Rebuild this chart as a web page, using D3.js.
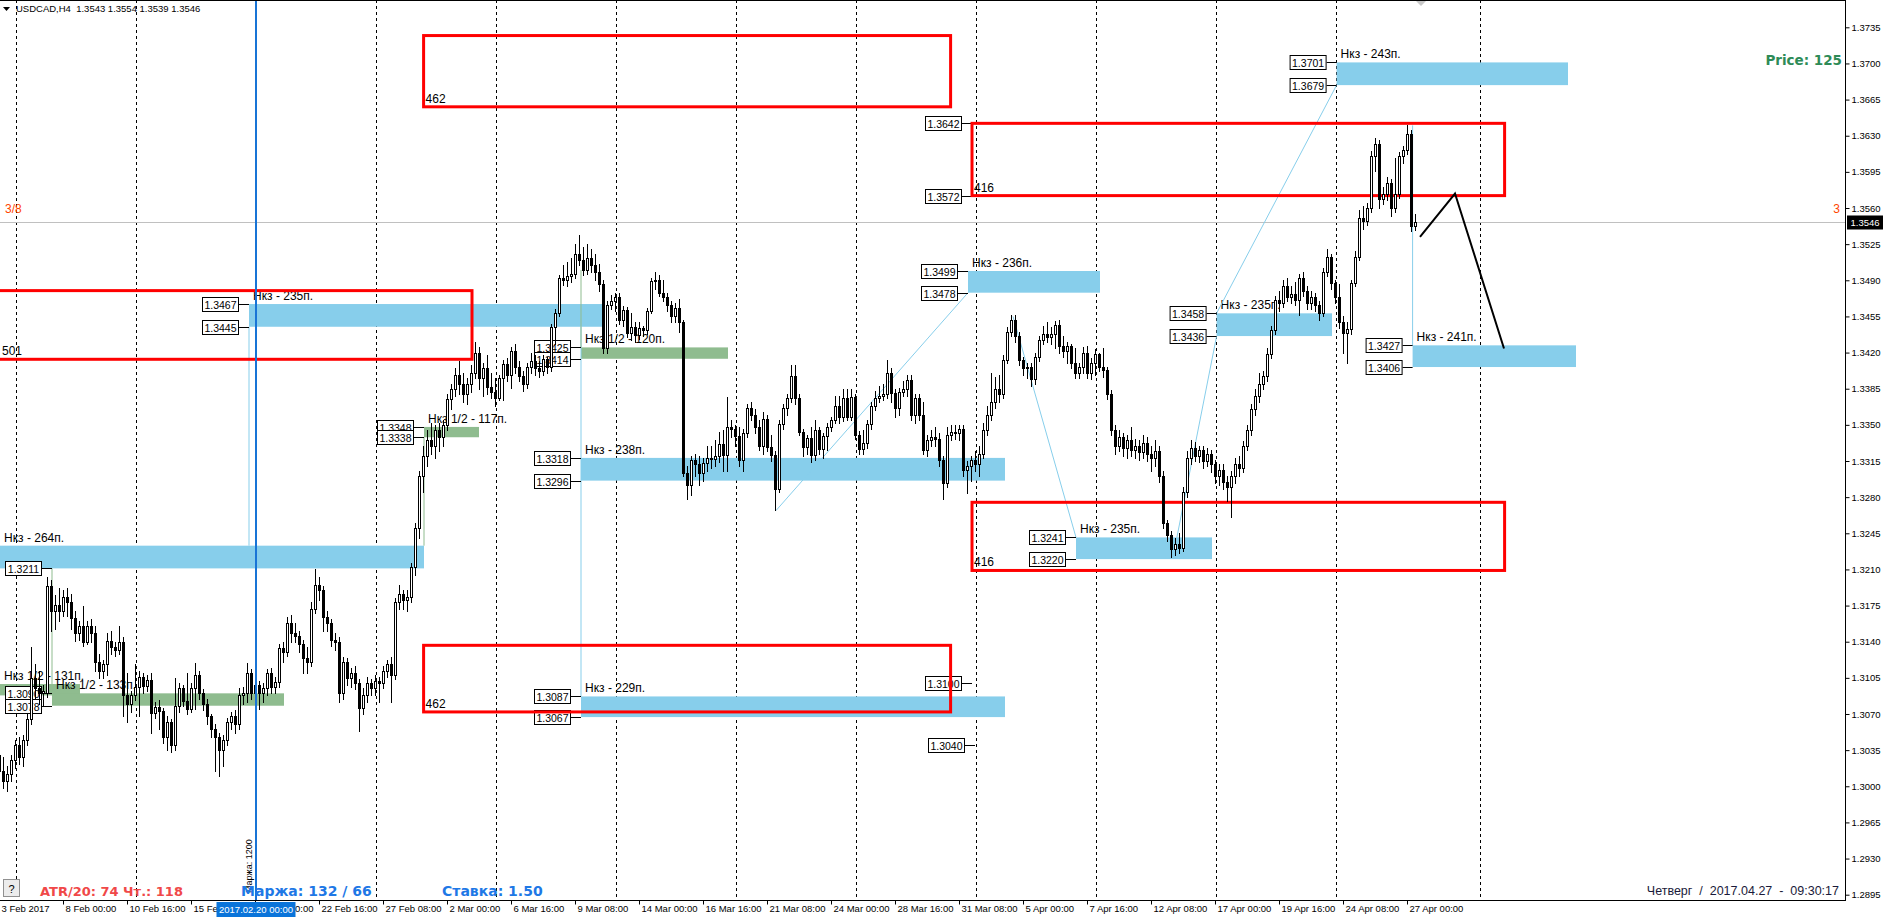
<!DOCTYPE html>
<html><head><meta charset="utf-8">
<script src="https://cdn.jsdelivr.net/npm/d3@7"></script>
<style>
body{margin:0;background:#fff;overflow:hidden}
svg{display:block}
text{font-family:"Liberation Sans",Arial,sans-serif}
.bold{font-family:"DejaVu Sans",Verdana,sans-serif;font-weight:bold}
</style></head>
<body><svg id="c" width="1887" height="921"></svg>
<script>
// ---------- DATA (prices as 1.xxxx -> stored as xxxx) ----------
const candles = [
[3030,3042,3010,3015],[3015,3028,2998,3005],[3005,3020,2995,3012],[3012,3030,3005,3025],[3025,3045,3018,3040],
[3040,3048,3022,3028],[3028,3050,3020,3045],[3045,3070,3040,3065],[3065,3135,3060,3105],[3105,3118,3085,3095],
[3095,3112,3080,3090],[3090,3098,3078,3092],[3090,3203,3086,3194],[3194,3200,3150,3170],[3170,3185,3152,3176],
[3176,3192,3160,3170],[3170,3190,3165,3183],[3183,3192,3165,3178],[3178,3186,3152,3163],[3163,3170,3141,3148],
[3148,3160,3142,3155],[3155,3175,3136,3140],[3140,3160,3138,3155],[3155,3162,3140,3148],[3148,3155,3112,3120],
[3120,3128,3105,3112],[3112,3122,3105,3118],[3118,3148,3108,3141],[3141,3150,3128,3135],[3135,3140,3126,3132],
[3132,3155,3128,3140],[3140,3145,3068,3088],[3088,3110,3062,3080],[3080,3092,3072,3088],[3088,3118,3084,3096],
[3096,3112,3068,3106],[3106,3110,3090,3097],[3097,3108,3092,3103],[3103,3110,3052,3071],[3071,3082,3066,3077],
[3077,3084,3055,3073],[3073,3076,3042,3048],[3048,3068,3035,3062],[3062,3065,3033,3040],[3040,3105,3035,3078],
[3078,3100,3072,3095],[3095,3098,3078,3083],[3083,3110,3070,3075],[3075,3100,3072,3095],[3095,3119,3075,3108],
[3108,3112,3085,3090],[3090,3094,3074,3080],[3080,3085,3060,3068],[3068,3070,3048,3055],[3055,3060,3015,3048],
[3048,3052,3010,3035],[3035,3050,3020,3045],[3045,3066,3040,3062],[3062,3072,3055,3068],[3068,3074,3052,3060],
[3060,3095,3055,3088],[3088,3096,3080,3090],[3090,3119,3082,3110],[3110,3114,3085,3090],[3090,3102,3074,3098],
[3098,3102,3075,3090],[3090,3100,3082,3095],[3095,3114,3088,3110],[3110,3115,3090,3096],[3096,3106,3090,3101],
[3101,3138,3096,3134],[3134,3140,3120,3130],[3130,3164,3126,3158],[3158,3166,3140,3148],[3148,3158,3140,3146],
[3146,3150,3130,3138],[3138,3142,3110,3124],[3124,3135,3110,3120],[3120,3178,3116,3172],[3172,3210,3168,3195],
[3195,3203,3180,3190],[3190,3194,3150,3164],[3164,3170,3150,3158],[3158,3162,3136,3142],[3142,3148,3132,3140],
[3140,3145,3082,3090],[3090,3125,3085,3120],[3120,3124,3098,3105],[3105,3115,3096,3110],[3110,3116,3094,3100],
[3100,3104,3054,3076],[3076,3095,3070,3088],[3088,3106,3082,3100],[3100,3104,3088,3095],[3095,3108,3088,3102],
[3102,3106,3082,3100],[3100,3116,3095,3112],[3112,3122,3106,3118],[3118,3125,3082,3108],[3108,3182,3104,3178],
[3178,3195,3172,3186],[3186,3190,3172,3180],[3180,3190,3170,3183],[3183,3216,3178,3212],[3212,3255,3205,3250],
[3250,3305,3240,3300],[3300,3330,3285,3320],[3320,3345,3310,3335],[3335,3352,3322,3330],[3330,3350,3318,3345],
[3345,3352,3325,3338],[3338,3355,3330,3350],[3350,3380,3345,3375],[3375,3390,3365,3385],[3385,3405,3378,3398],
[3398,3412,3380,3390],[3390,3400,3372,3380],[3380,3395,3370,3390],[3390,3408,3382,3400],[3400,3430,3395,3420],
[3420,3425,3385,3395],[3395,3410,3378,3405],[3405,3418,3380,3387],[3387,3400,3376,3382],[3382,3395,3368,3376],
[3376,3398,3374,3395],[3395,3413,3374,3409],[3409,3415,3392,3398],[3398,3425,3386,3422],[3422,3428,3400,3406],
[3406,3412,3392,3397],[3397,3402,3383,3390],[3390,3410,3386,3406],[3406,3420,3400,3412],[3412,3418,3398,3405],
[3405,3412,3396,3402],[3402,3418,3398,3414],[3414,3416,3400,3406],[3406,3448,3402,3445],[3445,3462,3428,3458],
[3458,3495,3455,3492],[3492,3505,3485,3490],[3490,3508,3484,3494],[3494,3512,3488,3496],[3496,3525,3492,3515],
[3515,3534,3505,3510],[3510,3522,3495,3500],[3500,3525,3496,3512],[3512,3520,3498,3505],[3505,3515,3490,3498],
[3498,3506,3480,3486],[3486,3490,3420,3424],[3424,3470,3420,3466],[3466,3476,3462,3470],[3470,3478,3460,3474],
[3474,3478,3448,3452],[3452,3465,3446,3461],[3461,3464,3435,3439],[3439,3458,3432,3445],[3445,3450,3430,3437],
[3437,3450,3433,3444],[3444,3446,3436,3442],[3442,3463,3438,3460],[3460,3492,3458,3489],[3489,3498,3482,3490],
[3490,3495,3475,3478],[3478,3490,3470,3474],[3474,3478,3460,3466],[3466,3470,3450,3455],[3455,3468,3450,3463],
[3463,3472,3440,3450],[3450,3452,3300,3303],[3303,3310,3278,3292],[3292,3320,3282,3316],[3316,3322,3300,3312],
[3312,3320,3292,3303],[3303,3318,3296,3313],[3313,3330,3305,3318],[3318,3330,3308,3317],[3317,3335,3310,3320],
[3320,3343,3314,3331],[3331,3345,3305,3321],[3321,3377,3305,3348],[3348,3355,3338,3346],[3346,3350,3330,3339],
[3339,3348,3310,3316],[3316,3346,3305,3342],[3342,3370,3338,3366],[3366,3372,3355,3360],[3360,3365,3342,3348],
[3348,3355,3326,3330],[3330,3362,3322,3356],[3356,3360,3325,3329],[3329,3340,3315,3321],[3321,3325,3268,3288],
[3288,3355,3285,3351],[3351,3370,3346,3366],[3366,3380,3360,3376],[3376,3408,3372,3397],[3397,3408,3370,3376],
[3376,3380,3340,3343],[3343,3346,3320,3329],[3329,3340,3322,3337],[3337,3348,3314,3321],[3321,3355,3316,3345],
[3345,3348,3322,3327],[3327,3342,3318,3339],[3339,3352,3326,3348],[3348,3358,3344,3355],[3355,3378,3352,3368],
[3368,3378,3352,3358],[3358,3385,3354,3376],[3376,3385,3355,3358],[3358,3385,3355,3377],[3377,3380,3336,3340],
[3340,3344,3322,3327],[3327,3345,3322,3332],[3332,3355,3328,3351],[3351,3372,3346,3368],[3368,3383,3364,3376],
[3376,3388,3372,3378],[3378,3390,3374,3380],[3380,3413,3376,3400],[3400,3405,3372,3381],[3381,3385,3358,3366],
[3366,3386,3360,3382],[3382,3392,3378,3385],[3385,3398,3378,3393],[3393,3398,3355,3360],[3360,3380,3352,3376],
[3376,3380,3355,3360],[3360,3372,3322,3326],[3326,3340,3320,3335],[3335,3345,3330,3338],[3338,3348,3330,3336],
[3336,3342,3310,3316],[3316,3320,3278,3294],[3294,3348,3290,3340],[3340,3350,3335,3343],[3343,3350,3336,3342],
[3342,3350,3335,3346],[3346,3350,3300,3306],[3306,3315,3284,3310],[3310,3320,3296,3316],[3316,3325,3305,3312],
[3312,3330,3300,3322],[3322,3352,3318,3345],[3345,3368,3340,3360],[3360,3400,3355,3372],[3372,3396,3366,3385],
[3385,3398,3372,3380],[3380,3418,3376,3413],[3413,3445,3410,3440],[3440,3456,3436,3452],[3452,3456,3430,3436],
[3436,3440,3408,3413],[3413,3416,3398,3405],[3405,3410,3395,3406],[3406,3410,3388,3394],[3394,3420,3390,3416],
[3416,3436,3412,3432],[3432,3446,3428,3438],[3438,3450,3430,3435],[3435,3445,3428,3438],[3438,3451,3424,3447],
[3447,3452,3420,3426],[3426,3436,3416,3422],[3422,3430,3410,3426],[3426,3428,3405,3410],[3410,3424,3395,3400],
[3400,3410,3395,3406],[3406,3425,3400,3420],[3420,3426,3395,3400],[3400,3415,3394,3410],[3410,3423,3398,3419],
[3419,3420,3402,3406],[3406,3424,3396,3403],[3403,3406,3375,3380],[3380,3384,3340,3345],[3345,3350,3322,3330],
[3330,3345,3325,3338],[3338,3342,3320,3328],[3328,3340,3318,3335],[3335,3348,3320,3326],[3326,3336,3318,3330],
[3330,3335,3316,3324],[3324,3340,3318,3332],[3332,3338,3315,3322],[3322,3330,3305,3318],[3318,3335,3310,3325],
[3325,3330,3295,3300],[3300,3305,3250,3255],[3255,3258,3238,3243],[3243,3247,3222,3230],[3230,3240,3224,3235],
[3235,3245,3226,3231],[3231,3290,3228,3285],[3285,3325,3280,3318],[3318,3335,3312,3328],[3328,3333,3315,3320],
[3320,3330,3314,3326],[3326,3330,3308,3315],[3315,3328,3310,3322],[3322,3326,3304,3312],[3312,3316,3294,3300],
[3300,3312,3292,3306],[3306,3312,3288,3295],[3295,3300,3276,3290],[3290,3305,3261,3300],[3300,3318,3294,3312],
[3312,3320,3300,3308],[3308,3334,3304,3330],[3330,3350,3326,3345],[3345,3370,3340,3365],[3365,3385,3360,3378],
[3378,3400,3372,3390],[3390,3402,3385,3397],[3397,3424,3392,3419],[3419,3446,3415,3442],[3442,3475,3438,3471],
[3471,3480,3460,3468],[3468,3490,3464,3484],[3484,3492,3470,3474],[3474,3484,3468,3477],[3477,3488,3466,3471],
[3471,3496,3456,3492],[3492,3498,3475,3480],[3480,3484,3462,3468],[3468,3480,3462,3474],[3474,3478,3460,3466],
[3466,3470,3452,3458],[3458,3502,3455,3498],[3498,3520,3494,3513],[3513,3515,3482,3487],[3487,3490,3468,3474],
[3474,3486,3444,3450],[3450,3455,3420,3439],[3439,3450,3410,3443],[3443,3490,3438,3487],[3487,3518,3484,3513],
[3513,3558,3510,3550],[3550,3562,3540,3547],[3547,3565,3544,3560],[3560,3615,3556,3610],[3610,3628,3596,3622],
[3622,3626,3560,3569],[3569,3580,3564,3574],[3574,3590,3568,3584],[3584,3588,3552,3560],[3560,3608,3556,3574],
[3574,3614,3570,3610],[3610,3620,3604,3616],[3616,3640,3612,3632],[3632,3636,3538,3543],[3543,3554,3539,3546]
];
const priceTicks = [2895,2930,2965,3000,3035,3070,3105,3140,3175,3210,3245,3280,3315,3350,3385,3420,3455,3490,3525,3560,3595,3630,3665,3700,3735];
const timeTickBars = [0,16,32,48,64,80,96,112,128,144,160,176,192,208,224,240,256,272,288,304,320,336,352];
const timeTickLabels = ["3 Feb 2017","8 Feb 00:00","10 Feb 16:00","15 Feb 08:00","20 Feb 00:00","22 Feb 16:00","27 Feb 08:00","2 Mar 00:00","6 Mar 16:00","9 Mar 08:00","14 Mar 00:00","16 Mar 16:00","21 Mar 08:00","24 Mar 00:00","28 Mar 16:00","31 Mar 08:00","5 Apr 00:00","7 Apr 16:00","12 Apr 08:00","17 Apr 00:00","19 Apr 16:00","24 Apr 08:00","27 Apr 00:00"];
const weekSeparators = [4,34,64,94,124,154,184,214,244,274,304,334,370];
const markerBar = 64;            // blue vertical line 2017.02.20 00:00
const bidPrice = 3546;
const murreyPrice = 3560;
const blueZones = [
 {b0:62.5,b1:151,top:3467,bot:3445,label:"Нкз - 235п."},
 {b0:-10,b1:106.25,top:3233,bot:3211,label:"Нкз - 264п."},
 {b0:145.5,b1:251.5,top:3318,bot:3296,label:"Нкз - 238п."},
 {b0:145.5,b1:251.5,top:3087,bot:3067,label:"Нкз - 229п."},
 {b0:242.25,b1:275.25,top:3499,bot:3478,label:"Нкз - 236п."},
 {b0:269.25,b1:303.25,top:3241,bot:3220,label:"Нкз - 235п."},
 {b0:304.4,b1:333.25,top:3458,bot:3436,label:"Нкз - 235п."},
 {b0:334.4,b1:392.25,top:3701,bot:3679,label:"Нкз - 243п."},
 {b0:353.4,b1:394.25,top:3427,bot:3406,label:"Нкз - 241п."}
];
const greenZones = [
 {b0:-10,b1:20.25,top:3099,bot:3088,label:"Нкз 1/2 - 131п."},
 {b0:13.25,b1:71.25,top:3090,bot:3078,label:"Нкз 1/2 - 133п."},
 {b0:106.25,b1:120,top:3348,bot:3338,label:"Нкз 1/2 - 117п."},
 {b0:145.5,b1:182.25,top:3425,bot:3414,label:"Нкз 1/2 - 120п."}
];
const priceLabels = [
 {v:3467,bar:62.5},{v:3445,bar:62.5},{v:3211,bar:13.25},{v:3090,bar:13.25},{v:3078,bar:13.25},
 {v:3348,bar:106.25},{v:3338,bar:106.25},{v:3425,bar:145.5},{v:3414,bar:145.5},
 {v:3318,bar:145.5},{v:3296,bar:145.5},{v:3087,bar:145.5},{v:3067,bar:145.5},
 {v:3100,bar:243.25},{v:3040,bar:244},{v:3642,bar:243.25},{v:3572,bar:243.25},
 {v:3499,bar:242.25},{v:3478,bar:242.25},{v:3241,bar:269.25},{v:3220,bar:269.25},
 {v:3458,bar:304.4},{v:3436,bar:304.4},{v:3701,bar:334.4},{v:3679,bar:334.4},
 {v:3427,bar:353.4},{v:3406,bar:353.4}
];
const redRects = [
 {b0:106.15,b1:237.9,top:3727,bot:3658,label:"462"},
 {b0:-3,b1:118.25,top:3480,bot:3413.5,label:"501"},
 {b0:243.25,b1:376.4,top:3642,bot:3572,label:"416"},
 {b0:243.25,b1:376.4,top:3275,bot:3209,label:"416"},
 {b0:106.15,b1:237.9,top:3136.5,bot:3072,label:"462"}
];
const blueLinks = [
 [62.5,3445,62.5,3233],[145.5,3445,145.5,3087],[194.25,3267,242.25,3478],
 [253.5,3455,269.25,3241],[293.5,3222,304.4,3436],[304.4,3458,334.4,3679],[353.4,3640,353.4,3427]
];
const greenLinks = [[13.25,3211,13.25,3099],[106.25,3338,106.25,3233],[145.5,3500,145.5,3425]];
const forecast = [[355.25,3532],[364,3574],[376.25,3424]];
const headerText = "USDCAD,H4\u00a0\u00a01.3543 1.3554 1.3539 1.3546";

// ---------- SCALES ----------
const P = v => 1 + v/10000;
const W = 1845, H = 900;
const x = d3.scaleLinear().domain([0,354]).range([-1,1415]);
const y = d3.scaleLinear().domain([1.2895,1.3735]).range([894.7,27.3]);
const X = b => x(b), Y = v => y(P(v));

const svg = d3.select('#c');
svg.append('rect').attr('width',1887).attr('height',921).attr('fill','#fff');
svg.append('defs').append('clipPath').attr('id','plot').append('rect').attr('x',0).attr('y',0).attr('width',W).attr('height',H);
const plot = svg.append('g').attr('clip-path','url(#plot)');

// week separators
plot.selectAll('line.sep').data(weekSeparators).join('line').attr('class','sep')
 .attr('x1',d=>Math.round(X(d))+1.5).attr('x2',d=>Math.round(X(d))+1.5).attr('y1',0).attr('y2',H)
 .attr('stroke','#000').attr('stroke-dasharray','3,3');

// bid line
plot.append('line').attr('x1',0).attr('x2',W).attr('y1',Math.round(Y(bidPrice))+0.5).attr('y2',Math.round(Y(bidPrice))+0.5).attr('stroke','#c0c0c0');

// zones
function zone(data, fill){
  plot.selectAll(null).data(data).join('rect')
   .attr('x',d=>X(d.b0)).attr('y',d=>Y(d.top)).attr('width',d=>X(d.b1)-X(d.b0)).attr('height',d=>Y(d.bot)-Y(d.top)).attr('fill',fill);
  plot.selectAll(null).data(data).join('text')
   .attr('x',d=>Math.max(X(d.b0),0)+4).attr('y',d=>Y(d.top)-4).attr('font-size',12).attr('fill','#000').text(d=>d.label);
}
zone(blueZones,'#87ceeb');
zone(greenZones,'#8fbc8f');

// connector lines
plot.selectAll(null).data(blueLinks).join('line')
 .attr('x1',d=>X(d[0])).attr('y1',d=>Y(d[1])).attr('x2',d=>X(d[2])).attr('y2',d=>Y(d[3])).attr('stroke','#87ceeb').attr('stroke-width',1);
plot.selectAll(null).data(greenLinks).join('line')
 .attr('x1',d=>X(d[0])).attr('y1',d=>Y(d[1])).attr('x2',d=>X(d[2])).attr('y2',d=>Y(d[3])).attr('stroke','#8fbc8f').attr('stroke-width',1);

// price label boxes
const pl = plot.selectAll(null).data(priceLabels).join('g');
pl.append('line').attr('x1',d=>X(d.bar)-10).attr('x2',d=>X(d.bar)).attr('y1',d=>Math.round(Y(d.v))+0.5).attr('y2',d=>Math.round(Y(d.v))+0.5).attr('stroke','#000');
pl.append('rect').attr('x',d=>X(d.bar)-46.5).attr('y',d=>Math.round(Y(d.v))-6.5).attr('width',36).attr('height',14).attr('fill','#fff').attr('stroke','#000');
pl.append('text').attr('x',d=>X(d.bar)-28.5).attr('y',d=>Math.round(Y(d.v))+4.5).attr('text-anchor','middle').attr('font-size',10.5).text(d=>P(d.v).toFixed(4));

// red rectangles
plot.selectAll(null).data(redRects).join('rect')
 .attr('x',d=>X(d.b0)).attr('y',d=>Y(d.top)).attr('width',d=>X(d.b1)-X(d.b0)).attr('height',d=>Y(d.bot)-Y(d.top))
 .attr('fill','none').attr('stroke','#ff0000').attr('stroke-width',3);
plot.selectAll(null).data(redRects).join('text')
 .attr('x',d=>Math.max(X(d.b0),0)+2).attr('y',d=>Y(d.bot)-4).attr('font-size',12).attr('fill','#000').text(d=>d.label);

// candles
const cg = plot.append('g').attr('shape-rendering','crispEdges');
const cs = cg.selectAll('g').data(candles).join('g');
cs.append('line').attr('x1',(d,i)=>Math.round(X(i))+0.5).attr('x2',(d,i)=>Math.round(X(i))+0.5)
 .attr('y1',d=>Math.round(Y(d[1]))).attr('y2',d=>Math.round(Y(d[2]))+1).attr('stroke','#000');
cs.append('rect').attr('x',(d,i)=>Math.round(X(i))-0.5)
 .attr('y',d=>Math.round(Y(Math.max(d[0],d[3])))+0.5).attr('width',2)
 .attr('height',d=>Math.max(0,Math.round(Y(Math.min(d[0],d[3])))-Math.round(Y(Math.max(d[0],d[3])))))
 .attr('fill',d=>d[3]>=d[0]?'#fff':'#000').attr('stroke','#000');

// blue marker line
plot.append('line').attr('x1',X(markerBar)+1).attr('x2',X(markerBar)+1).attr('y1',0).attr('y2',H).attr('stroke','#1874d6').attr('stroke-width',2);
plot.append('text').attr('transform',`translate(${X(markerBar)-3},893) rotate(-90)`).attr('font-size',9).attr('fill','#000').text('Маржа: 1200');

// forecast zigzag
plot.append('path').attr('d',d3.line().x(d=>X(d[0])).y(d=>Y(d[1]))(forecast)).attr('fill','none').attr('stroke','#000').attr('stroke-width',2);

// shift marker
svg.append('path').attr('d','M1416,1 L1426,1 L1421,6 Z').attr('fill','#c8c8c8');

// frame
svg.append('line').attr('x1',0).attr('x2',W+1).attr('y1',0.5).attr('y2',0.5).attr('stroke','#000');

// right axis
const ra = svg.append('g').attr('transform',`translate(${W+0.5},0)`)
 .call(d3.axisRight(y).tickValues(priceTicks.map(P)).tickFormat(d3.format('.4f')).tickSize(4).tickPadding(2));
ra.select('.domain').attr('d',`M0,0V${H+0.5}`).attr('stroke','#000');
ra.selectAll('text').attr('font-family','"Liberation Sans",Arial,sans-serif').attr('font-size',9.5).attr('fill','#000');
ra.selectAll('line').attr('stroke','#000');

// bottom axis
const ba = svg.append('g').attr('transform',`translate(0,${H+0.5})`)
 .call(d3.axisBottom(x).tickValues(timeTickBars).tickFormat((d,i)=>timeTickLabels[i]).tickSize(4));
ba.select('.domain').attr('d',`M0,0H${W+1}`).attr('stroke','#000');
ba.selectAll('text').attr('text-anchor','start').attr('dx',2).attr('y',5).attr('font-family','"Liberation Sans",Arial,sans-serif').attr('font-size',9.5).attr('fill','#000');
ba.selectAll('line').attr('stroke','#000');

// marker time label
svg.append('rect').attr('x',X(markerBar)+1-39.5).attr('y',902).attr('width',79).attr('height',15).attr('fill','#0a74da');
svg.append('text').attr('x',X(markerBar)+1).attr('y',913).attr('text-anchor','middle').attr('font-size',9.5).attr('fill','#fff').text('2017.02.20 00:00');

// bid price box
svg.append('rect').attr('x',W+2).attr('y',Math.round(Y(bidPrice))-6.5).attr('width',36).attr('height',14).attr('fill','#000');
svg.append('text').attr('x',W+20).attr('y',Math.round(Y(bidPrice))+4).attr('text-anchor','middle').attr('font-size',9.5).attr('fill','#fff').text(P(bidPrice).toFixed(4));

// header
svg.append('path').attr('d','M3,7 L10,7 L6.5,11 Z').attr('fill','#000');
svg.append('text').attr('x',16).attr('y',12).attr('font-size',9.5).attr('fill','#000').text(headerText);

// murrey labels
svg.append('text').attr('x',5).attr('y',Y(murreyPrice)+5).attr('font-size',12).attr('fill','#ff4500').text('3/8');
svg.append('text').attr('x',1840).attr('y',Y(murreyPrice)+5).attr('text-anchor','end').attr('font-size',12).attr('fill','#ff4500').text('3');

// Price label
svg.append('text').attr('class','bold').attr('x',1842).attr('y',65).attr('text-anchor','end').attr('font-size',13.5).attr('fill','#2e8b57').text('Price: 125');

// bottom info
svg.append('rect').attr('x',3.5).attr('y',879.5).attr('width',16).attr('height',17).attr('fill','#ececec').attr('stroke','#909090');
svg.append('text').attr('x',11.5).attr('y',893).attr('text-anchor','middle').attr('font-size',11).attr('fill','#000').text('?');
svg.append('text').attr('class','bold').attr('x',40).attr('y',896).attr('font-size',13).attr('fill','#f04848').text('ATR/20: 74 Чт.: 118');
svg.append('text').attr('class','bold').attr('x',241).attr('y',896).attr('font-size',14).attr('fill','#1e78e6').text('Маржа: 132 / 66');
svg.append('text').attr('class','bold').attr('x',442).attr('y',896).attr('font-size',14).attr('fill','#1e78e6').text('Ставка: 1.50');
svg.append('text').attr('x',1839).attr('y',894.5).attr('text-anchor','end').attr('font-size',12.5).attr('fill','#1a1a3a').text('Четверг  /  2017.04.27  -  09:30:17').attr('xml:space','preserve');
</script></body></html>
